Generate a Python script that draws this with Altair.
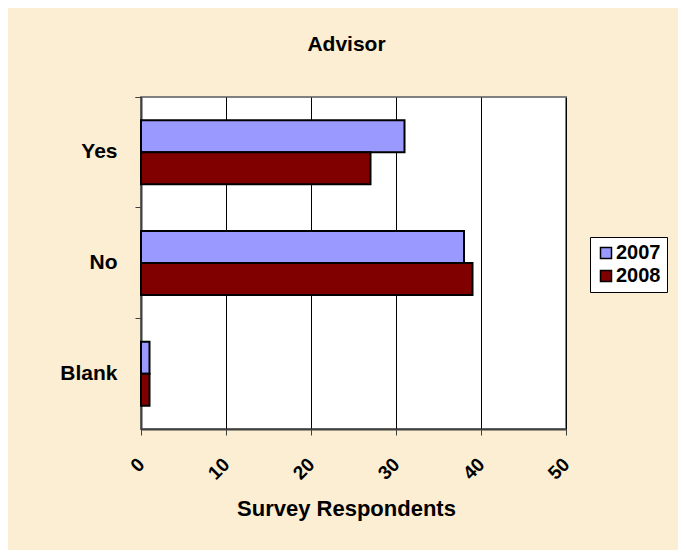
import altair as alt
import pandas as pd

categories = ["Yes", "No", "Blank"]
years = ["2007", "2008"]
values_2007 = [31, 38, 1]
values_2008 = [27, 39, 1]
x_ticks = [0, 10, 20, 30, 40, 50]

rows = []
for c, a, b in zip(categories, values_2007, values_2008):
    rows.append({"Response": c, "Year": years[0], "Count": a})
    rows.append({"Response": c, "Year": years[1], "Count": b})
df = pd.DataFrame(rows)

font = "Liberation Sans"

chart = alt.Chart(df).mark_bar(stroke="black", strokeWidth=2).encode(
    y=alt.Y(
        "Response:N", sort=categories, title=None,
        scale=alt.Scale(paddingInner=0, paddingOuter=0),
        axis=alt.Axis(
            bandPosition=0, tickExtra=True, labelOffset=0, tickSize=6,
            tickColor="#404040", domainColor="#404040", domainWidth=2,
            labelFont=font, labelFontSize=21, labelFontWeight="bold",
            labelColor="black", labelPadding=18,
        ),
    ),
    x=alt.X(
        "Count:Q", title="Survey Respondents",
        scale=alt.Scale(domain=[0, 50], nice=False),
        axis=alt.Axis(
            values=x_ticks, grid=True, gridColor="black", gridWidth=1,
            tickSize=6, tickColor="#404040", domainColor="#404040", domainWidth=2,
            labelAngle=-45, labelAlign="right", labelBaseline="middle",
            labelPadding=26, labelFont=font, labelFontSize=19,
            labelFontWeight="bold", labelColor="black",
            titleFont=font, titleFontSize=22, titleFontWeight="bold",
            titleColor="black", titleX=205, titleY=86, titleAlign="center",
            titleBaseline="alphabetic",
        ),
    ),
    yOffset=alt.YOffset(
        "Year:N", sort=years,
        scale=alt.Scale(paddingInner=0, paddingOuter=0.73),
    ),
    color=alt.Color(
        "Year:N",
        scale=alt.Scale(domain=years, range=["#9999FF", "#800000"]),
        legend=alt.Legend(
            title=None, orient="none", legendX=449, legendY=140,
            strokeColor="black", fillColor="white", padding=6,
            symbolType="square", symbolSize=121, symbolStrokeColor="black",
            symbolStrokeWidth=1.5, labelFont=font, labelFontSize=20,
            labelFontWeight="bold", labelColor="black", rowPadding=3,
            labelOffset=0,
        ),
    ),
).properties(
    width=425,
    height=332,
    title=alt.TitleParams(
        "Advisor", font=font, fontSize=21, fontWeight="bold",
        color="black", offset=14, anchor="middle", baseline="alphabetic",
        dx=-7,
    ),
    padding={"left": 133, "top": 89, "right": 112, "bottom": 121},
    autosize="none",
    background="#FBEED2",
).configure_view(
    fill="white", stroke="#808080", strokeWidth=2,
)

chart.save("out.html", embed_options={"renderer": "svg", "actions": False})
